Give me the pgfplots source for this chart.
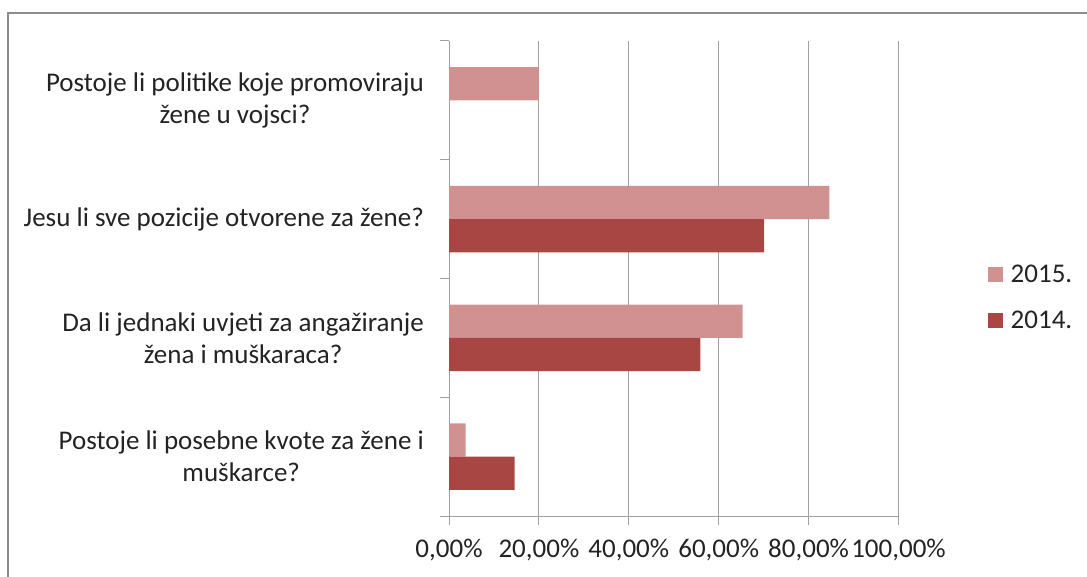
\documentclass[border=0pt]{standalone}
\usepackage{fontspec}
\setmainfont{Carlito}
\usepackage{pgfplots}
\pgfplotsset{compat=1.18}
\definecolor{c15}{RGB}{210,145,145}
\definecolor{c14}{RGB}{168,70,68}
\definecolor{gridc}{RGB}{160,160,160}
\definecolor{framec}{RGB}{140,140,140}
\definecolor{txt}{RGB}{35,35,35}
\begin{document}
\begin{tikzpicture}[x=1pt,y=1pt]
\useasboundingbox (0pt,0pt) rectangle (1087pt,576pt);
\draw[framec, line width=2.2pt] (8pt,-5pt) -- (8pt,563pt) -- (1095pt,563pt);
\begin{axis}[
  at={(449pt,60pt)}, anchor=south west,
  width=449.5pt, height=475pt, scale only axis,
  xbar, bar width=0.28,
  xmin=0, xmax=100, ymin=-0.5, ymax=3.5,
  axis lines*=left,
  axis line style={gridc, line width=1pt},
  tick align=outside,
  major tick length=9pt,
  tick style={gridc, line width=1pt},
  xtick={0,20,40,60,80,100},
  xticklabels={{0,00\%},{20,00\%},{40,00\%},{60,00\%},{80,00\%},{100,00\%}},
  xticklabel style={yshift=-11pt},
  xmajorgrids,
  major grid style={gridc, line width=1pt},
  ytick={-0.5,0.5,1.5,2.5,3.5},
  yticklabels={},
  extra y ticks={0,1,2,3},
  extra y tick labels={{Postoje li posebne kvote za žene i\\muškarce?},{Da li jednaki uvjeti za angažiranje\\žena i muškaraca?},{Jesu li sve pozicije otvorene za žene?},{Postoje li politike koje promoviraju\\žene u vojsci?}},
  extra y tick style={major tick length=0pt, tick style={draw=none}, yticklabel style={align=center, anchor=east, inner sep=0pt, xshift=-25pt}},
  ticklabel style={font=\fontsize{27}{32}\selectfont, text=txt},
  legend style={at={(1.198,0.459)}, anchor=west, draw=none, fill=none, font=\fontsize{27}{32}\selectfont, text=txt, row sep=21pt, inner sep=0pt, nodes={inner sep=3pt},
    /tikz/every odd column/.append style={column sep=5pt}},
  legend cell align=left,
  legend image code/.code={\fill[#1] (0pt,-7.5pt) rectangle (15pt,7.5pt);},
]
\addplot[fill=c15, draw=none, bar shift=0.14] coordinates {(3.7,0) (65.3,1) (84.6,2) (20.0,3)};
\addplot[fill=c14, draw=none, bar shift=-0.14] coordinates {(14.6,0) (55.9,1) (70.1,2)};
\legend{2015.,2014.}
\end{axis}
\end{tikzpicture}
\end{document}
